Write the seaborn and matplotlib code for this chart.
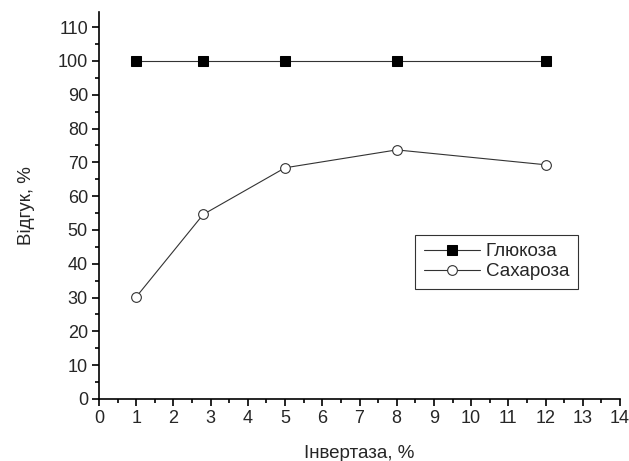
import matplotlib
matplotlib.use("Agg")
import matplotlib.pyplot as plt
from matplotlib.ticker import MultipleLocator
import seaborn as sns
import pandas as pd

x_glucose = [1, 2.8, 5, 8, 12]
y_glucose = [100, 100, 100, 100, 100]
x_sucrose = [1, 2.8, 5, 8, 12]
y_sucrose = [30.2, 54.6, 68.4, 73.7, 69.3]
label_glucose = "Глюкоза"
label_sucrose = "Сахароза"

sns.set_style("ticks")
plt.rcParams['font.family'] = ['Liberation Sans', 'DejaVu Sans']

fig = plt.figure(figsize=(6.29, 4.61), dpi=100)
ax = fig.add_axes([0.1574, 0.1345, 0.9857 - 0.1574, 0.974 - 0.1345])

df_g = pd.DataFrame({"x": x_glucose, "y": y_glucose})
df_s = pd.DataFrame({"x": x_sucrose, "y": y_sucrose})

sns.lineplot(data=df_g, x="x", y="y", ax=ax, color="#333333", linewidth=0.8,
             marker="s", markersize=6.5, markerfacecolor="black", markeredgecolor="black",
             label=label_glucose)
sns.lineplot(data=df_s, x="x", y="y", ax=ax, color="#333333", linewidth=0.8,
             marker="o", markersize=7, markerfacecolor="white", markeredgecolor="#333333",
             markeredgewidth=0.8, label=label_sucrose)

ax.set_xlim(0, 14)
ax.set_ylim(0, 114.5)
ax.xaxis.set_major_locator(MultipleLocator(1))
ax.xaxis.set_minor_locator(MultipleLocator(0.5))
ax.yaxis.set_major_locator(MultipleLocator(10))
ax.yaxis.set_minor_locator(MultipleLocator(5))
ax.set_yticks(range(0, 111, 10))
ax.tick_params(axis='both', which='major', direction='out', length=5, width=1.2,
               labelsize=13, color='black', pad=3)
ax.tick_params(axis='both', which='minor', direction='out', length=3, width=1.2, color='black')
for s in ['top', 'right']:
    ax.spines[s].set_visible(False)
for s in ['left', 'bottom']:
    ax.spines[s].set_linewidth(1.2)
    ax.spines[s].set_color('black')

ax.set_xlabel("Інвертаза, %", fontsize=13.5, labelpad=13)
ax.set_ylabel("Відгук, %", fontsize=13.5, labelpad=16)

leg = ax.legend(loc='upper left', bbox_to_anchor=(0.607, 0.424), frameon=True,
                fancybox=False, edgecolor='black', fontsize=13.5, handlelength=3.0,
                borderpad=0.45, labelspacing=0.15, handletextpad=0.3, borderaxespad=0)
leg.get_frame().set_linewidth(0.8)

fig.savefig("out.png", dpi=100)
